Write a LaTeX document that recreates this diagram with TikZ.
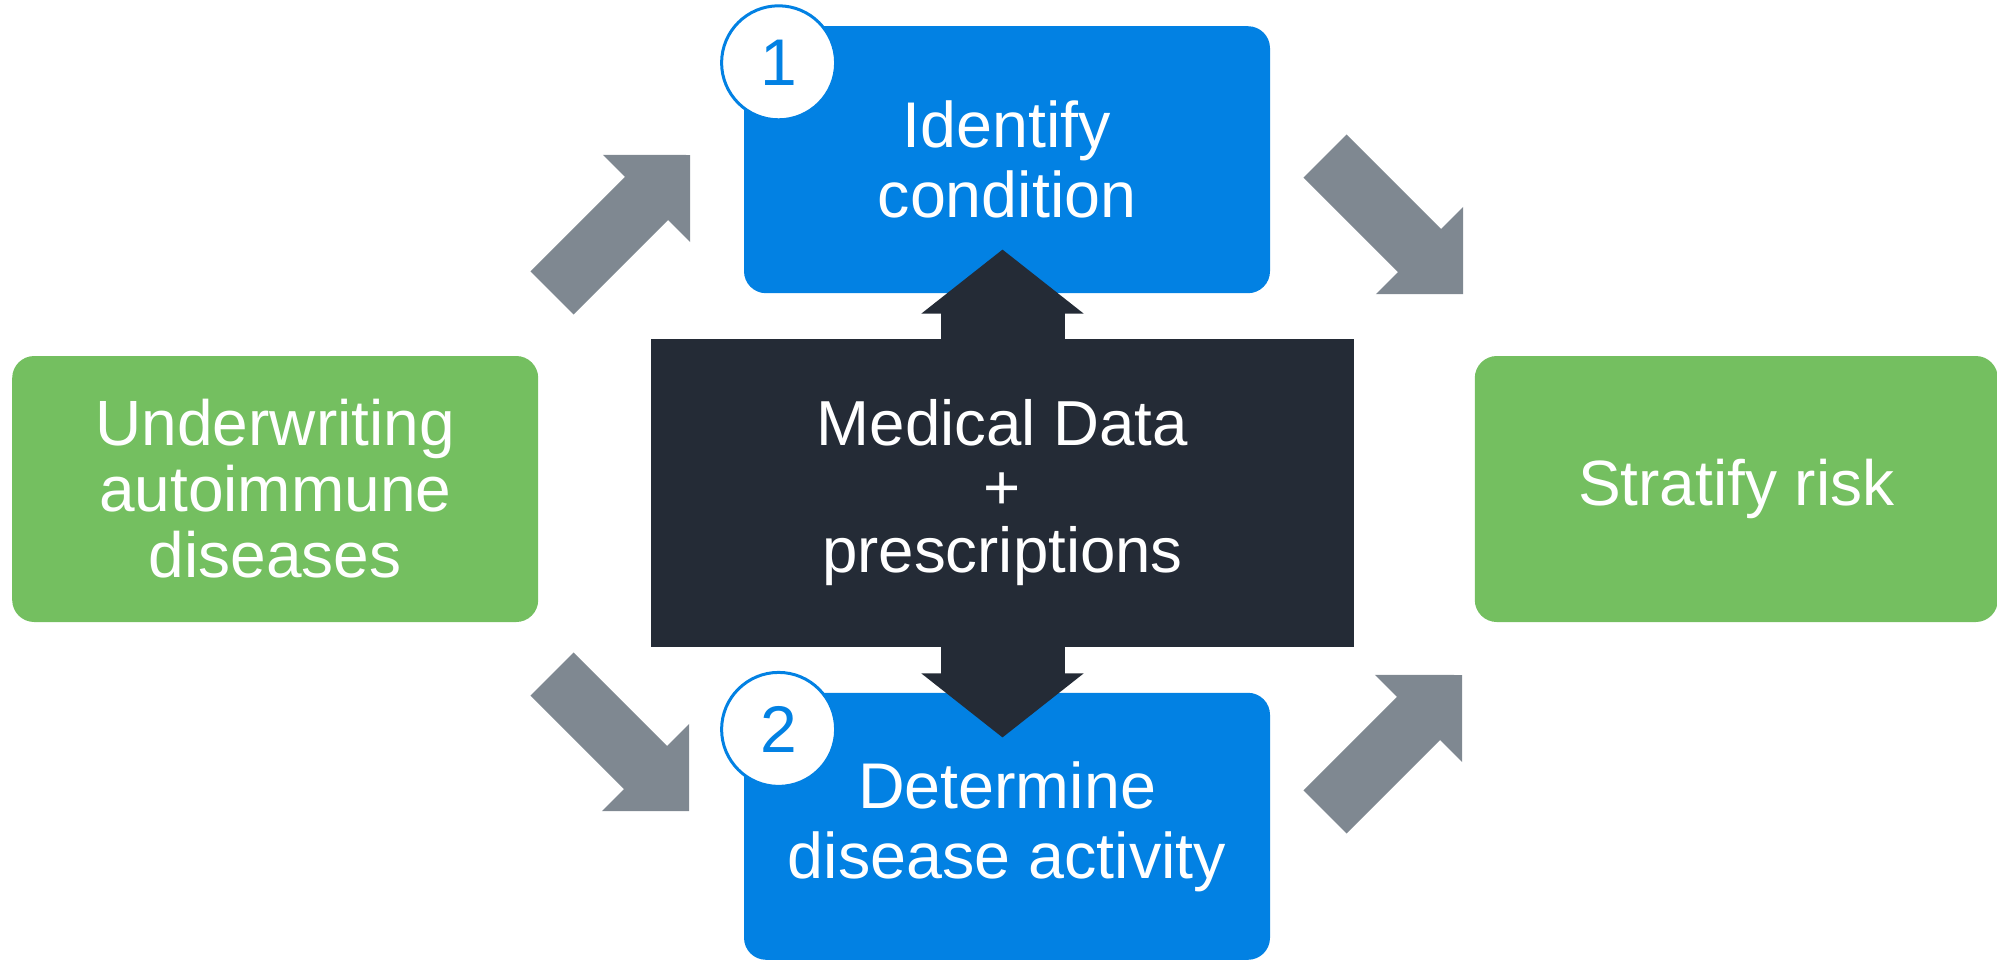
\documentclass[tikz,border=0pt]{standalone}
\usepackage{fontspec}
\setmainfont{Liberation Sans}
\usetikzlibrary{arrows.meta, positioning, calc}

\definecolor{stepblue}{RGB}{2,129,227}
\definecolor{goalgreen}{RGB}{116,191,96}
\definecolor{datadark}{RGB}{36,43,54}
\definecolor{flowgray}{RGB}{127,136,145}

\begin{document}
\begin{tikzpicture}[
  x=0.5pt, y=-0.5pt,
  stepbox/.style  = {fill=stepblue, rounded corners=11pt, minimum width=263pt, minimum height=133.5pt,
                     align=center, text=white, inner sep=0pt, font=\fontsize{32.3}{35}\selectfont},
  goalbox/.style  = {fill=goalgreen, rounded corners=11pt, minimum width=263pt, minimum height=133pt,
                     align=center, text=white, inner sep=0pt, font=\fontsize{32}{33}\selectfont},
  databox/.style  = {fill=datadark, minimum width=351.5pt, minimum height=154pt,
                     align=center, text=white, inner sep=0pt, font=\fontsize{31.8}{31.75}\selectfont},
  badge/.style    = {circle, draw=stepblue, line width=1.5pt, fill=white, text=stepblue,
                     minimum size=57pt, inner sep=0pt, font=\fontsize{33}{36}\selectfont},
  flow/.style     = {draw=flowgray, line width=30.5pt,
                     -{Triangle[length=30.75pt, width=61.5pt, line width=1pt]}},
  dataflow/.style = {draw=datadark, line width=62pt,
                     -{Triangle[length=32pt, width=81pt, line width=1pt]}}
]
\useasboundingbox (0,0) rectangle (1997,959);

%--------------------------------------------------
% Central data block and the two steps
%--------------------------------------------------
\node[databox] (data) at (1002.5,493) {Medical Data\\+\\prescriptions};
\node[stepbox, above=22.5pt of data, xshift=2.25pt] (identify) {Identify\\condition};
\node[stepbox, below=22.5pt of data, xshift=2.25pt] (activity) {Determine\\disease activity};

% step numbers
\node[badge] (one) at ($(identify.north west)+(35,37)$) {1};
\node[badge] (two) at ($(activity.north west)+(35,37)$) {2};

%--------------------------------------------------
% Start and goal (green)
%--------------------------------------------------
\node[goalbox, left=56pt of data, yshift=2pt] (underwriting) {Underwriting\\autoimmune\\diseases};
\node[goalbox, right=60pt of data, yshift=2pt, minimum width=261.5pt] (stratify) {Stratify risk};

%--------------------------------------------------
% Data feeds both steps
%--------------------------------------------------
\draw[dataflow] (data.north) -- ($(data.north |- identify.south)+(0,-44)$);
\draw[dataflow] (data.south) -- ($(data.south |- activity.north)+(0,45)$);

%--------------------------------------------------
% Flow arrows (grey)
%--------------------------------------------------
\coordinate (uw_up)      at (552,293);
\coordinate (uw_up_tip)  at (690,155);
\coordinate (uw_dn)      at (552,674);
\coordinate (uw_dn_tip)  at (689,811);
\coordinate (id_out)     at (1325,156);
\coordinate (id_out_tip) at (1463,294);
\coordinate (da_out)     at (1325,812);
\coordinate (da_out_tip) at (1462,675);

\draw[flow] (uw_up) -- (uw_up_tip);
\draw[flow] (uw_dn) -- (uw_dn_tip);
\draw[flow] (id_out) -- (id_out_tip);
\draw[flow] (da_out) -- (da_out_tip);

\end{tikzpicture}
\end{document}
